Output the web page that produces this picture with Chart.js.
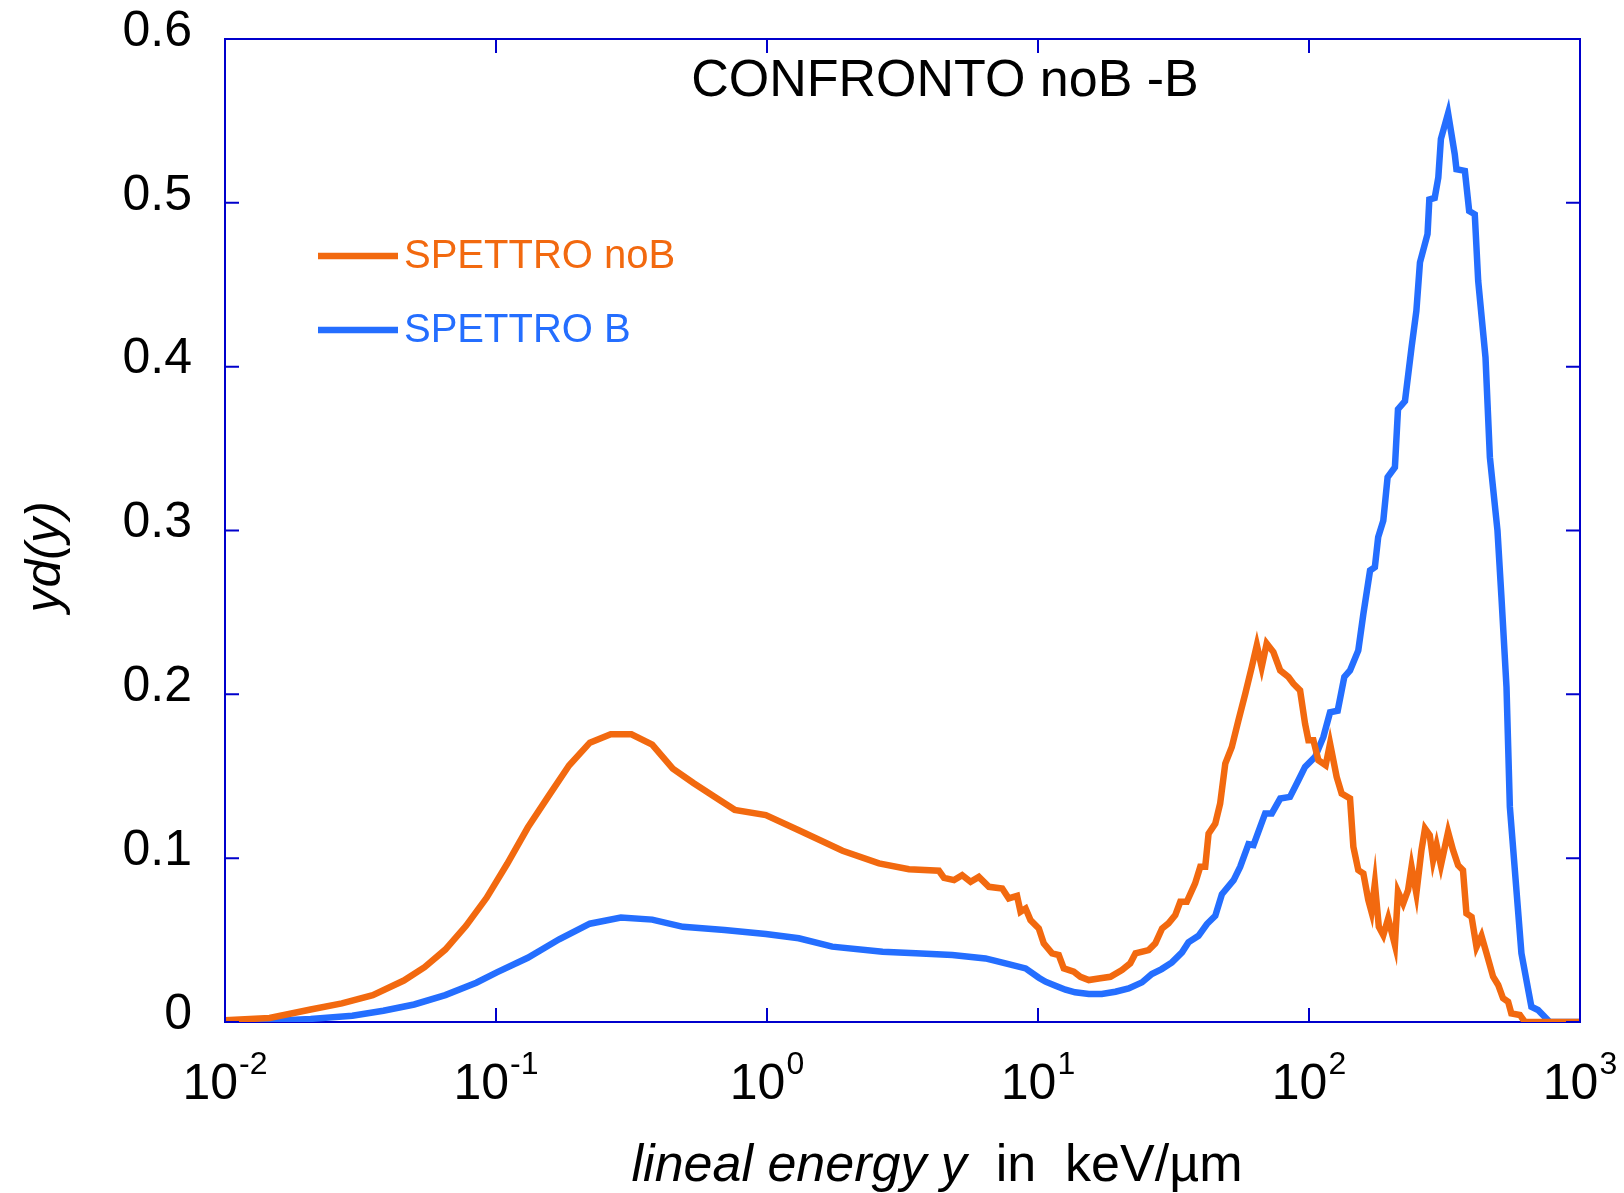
<!DOCTYPE html>
<html>
<head>
<meta charset="utf-8">
<title>CONFRONTO noB -B</title>
<script src="https://cdn.jsdelivr.net/npm/chart.js@4.4.1/dist/chart.umd.min.js"></script>
<style>
  html, body { margin: 0; padding: 0; background: #fff; }
</style>
</head>
<body>
<canvas id="spettri" width="1624" height="1193"></canvas>
<script>
// lineal energy y (keV/um) and yd(y) for the spectrum without boron
var noB_x = [0.01, 0.0146, 0.0207, 0.027, 0.0351, 0.0457, 0.0545, 0.065, 0.0775, 0.0923,
  0.11, 0.131, 0.156, 0.186, 0.222, 0.265, 0.316, 0.377, 0.449, 0.535,
  0.638, 0.76, 0.99, 1.31, 1.9, 2.59, 3.34, 4.31, 4.5, 4.9,
  5.25, 5.64, 6.05, 6.59, 7.38, 7.8, 8.37, 8.62, 9.0, 9.38,
  10.07, 10.5, 11.27, 11.93, 12.45, 13.55, 14.34, 15.4, 16.75, 18.5,
  20.4, 21.9, 22.9, 25.6, 27.1, 28.7, 30.3, 32.1, 33.5, 35.4,
  38.0, 39.7, 41.4, 42.6, 45.1, 47.0, 49.1, 51.9, 54.9, 58.2,
  61.5, 64.2, 66.9, 69.8, 73.9, 78.3, 84, 87.6, 92.7, 96.7,
  99.5, 103.8, 108.3, 115.2, 119.6, 126.5, 132, 141.7, 145.8, 152,
  158.7, 165.5, 170, 175, 181, 188, 196, 207.5, 213, 222.6,
  232, 239, 249, 260, 268, 279, 287, 295.6, 306.7, 326,
  340, 355, 370, 381, 398, 415, 433, 452, 478, 499,
  520, 543, 558, 600, 626, 700, 1000];
var noB_y = [0.001, 0.0025, 0.0076, 0.0114, 0.0164, 0.0253, 0.0335, 0.0442, 0.0587, 0.0758,
  0.0966, 0.1187, 0.1377, 0.1566, 0.1705, 0.1756, 0.1756, 0.1693, 0.1547, 0.1459,
  0.1377, 0.1295, 0.1263, 0.117, 0.1045, 0.0968, 0.0933, 0.0923, 0.088, 0.0866,
  0.0896, 0.0856, 0.0886, 0.0825, 0.0815, 0.0754, 0.077, 0.0673, 0.0693, 0.0622,
  0.0571, 0.048, 0.0419, 0.0409, 0.0327, 0.0307, 0.0276, 0.0256, 0.0266, 0.0276,
  0.0317, 0.0358, 0.0419, 0.0439, 0.048, 0.0571, 0.0602, 0.0652, 0.0734, 0.0734,
  0.0846, 0.0947, 0.0947, 0.115, 0.1211, 0.1333, 0.1577, 0.1679, 0.1841, 0.2004,
  0.2167, 0.230, 0.2167, 0.231, 0.2258, 0.2146, 0.2106, 0.2065, 0.2024, 0.1821,
  0.172, 0.172, 0.1598, 0.1567, 0.170, 0.1496, 0.1394, 0.1364, 0.1069, 0.0927,
  0.0907, 0.0744, 0.0673, 0.0846, 0.0581, 0.053, 0.0632, 0.047, 0.0795, 0.0724,
  0.0805, 0.0947, 0.0785, 0.1049, 0.1181, 0.114, 0.0988, 0.108, 0.0957, 0.116,
  0.1049, 0.0957, 0.0927, 0.0663, 0.0642, 0.0459, 0.0526, 0.0419, 0.0276, 0.0226,
  0.0145, 0.0124, 0.0053, 0.0043, 0, 0, 0];

// same quantities for the spectrum with boron
var B_x = [0.01, 0.0146, 0.0207, 0.0295, 0.0384, 0.0499, 0.065, 0.0846, 0.1007, 0.131,
  0.171, 0.222, 0.289, 0.377, 0.49, 0.697, 0.99, 1.31, 1.74, 2.67,
  3.54, 4.83, 6.4, 7.59, 9.0, 10.07, 10.66, 11.6, 12.63, 13.7,
  15.4, 17.2, 19.3, 21.6, 24.2, 26.3, 28.6, 31.2, 34.0, 35.9,
  39.1, 42, 45.1, 47.7, 52.7, 55.7, 59.8, 62.4, 66, 68.9,
  72.9, 78.3, 85.1, 91.4, 96.7, 105.3, 113, 119.6, 127.6, 135,
  141.7, 152, 158.7, 168, 175, 180, 188, 195, 207.5, 213,
  226, 239, 249, 256.7, 273.8, 278, 291, 300, 306.7, 326,
  345, 350, 376, 390, 409, 421, 448, 465, 496, 513,
  535.5, 551, 608, 661.6, 700, 773, 1000];
var B_y = [0, 0.0006, 0.0019, 0.0038, 0.0069, 0.0107, 0.0164, 0.024, 0.0303, 0.0392,
  0.0505, 0.060, 0.0638, 0.0625, 0.0581, 0.0562, 0.0537, 0.0511, 0.046, 0.0429,
  0.0419, 0.0409, 0.0388, 0.0358, 0.0327, 0.027, 0.0246, 0.0221, 0.0197, 0.0181,
  0.0171, 0.0171, 0.0185, 0.0205, 0.0242, 0.0293, 0.0323, 0.0364, 0.0425, 0.0486,
  0.0526, 0.0598, 0.0648, 0.078, 0.0866, 0.0947, 0.1085, 0.108, 0.119, 0.1273,
  0.1273, 0.1364, 0.1374, 0.1476, 0.1557, 0.1618, 0.174, 0.189, 0.19, 0.2106,
  0.2146, 0.2268, 0.249, 0.2756, 0.2776, 0.296, 0.306, 0.3325, 0.3386, 0.374,
  0.379, 0.4118, 0.434, 0.4636, 0.481, 0.502, 0.503, 0.5154, 0.539, 0.5547,
  0.5297, 0.5205, 0.5195, 0.495, 0.493, 0.4524, 0.4057, 0.3447, 0.300, 0.2593,
  0.2045, 0.1313, 0.0419, 0.0093, 0.0073, 0, 0];

var seriesNames = ['SPETTRO noB', 'SPETTRO B'];
var xDecades = [-2, -1, 0, 1, 2, 3];
var yTicks = [0, 0.1, 0.2, 0.3, 0.4, 0.5, 0.6];
var yTickLabels = ['0', '0.1', '0.2', '0.3', '0.4', '0.5', '0.6'];

var ORANGE = '#F2690F';
var BLUE = '#246EFF';
var AXIS = '#0000CC';
var FONT = '"Liberation Sans", Arial, Helvetica, sans-serif';

function toPoints(xs, ys) {
  return xs.map(function (v, i) { return { x: v, y: ys[i] }; });
}

// frame, inward tick marks, exponent labels, titles and legend
var decorations = {
  id: 'decorations',
  afterDraw: function (chart) {
    var ctx = chart.ctx;
    var a = chart.chartArea;
    var xs = chart.scales.x, ys = chart.scales.y;
    ctx.save();

    ctx.strokeStyle = AXIS;
    ctx.lineWidth = 2;
    ctx.beginPath();
    ctx.moveTo(a.left, a.top);
    ctx.lineTo(a.right, a.top);
    ctx.lineTo(a.right, a.bottom);
    ctx.stroke();

    var tl = 14;
    ctx.beginPath();
    yTicks.forEach(function (v) {
      var py = ys.getPixelForValue(v);
      ctx.moveTo(a.left, py); ctx.lineTo(a.left + tl, py);
      ctx.moveTo(a.right, py); ctx.lineTo(a.right - tl, py);
    });
    xDecades.forEach(function (e) {
      var px = xs.getPixelForValue(Math.pow(10, e));
      ctx.moveTo(px, a.bottom); ctx.lineTo(px, a.bottom - tl);
      ctx.moveTo(px, a.top); ctx.lineTo(px, a.top + tl);
    });
    ctx.stroke();

    // 10^n labels under the x axis
    ctx.fillStyle = '#000';
    ctx.textBaseline = 'alphabetic';
    ctx.textAlign = 'left';
    xDecades.forEach(function (e) {
      var px = xs.getPixelForValue(Math.pow(10, e));
      ctx.font = '50px ' + FONT;
      var w1 = ctx.measureText('10').width;
      ctx.font = '32px ' + FONT;
      var w2 = ctx.measureText(String(e)).width;
      var start = px - (w1 + 1 + w2) / 2;
      ctx.font = '50px ' + FONT;
      ctx.fillText('10', start, a.bottom + 77);
      ctx.font = '32px ' + FONT;
      ctx.fillText(String(e), start + w1 + 1, a.bottom + 52);
    });

    // x axis title: italic quantity, upright unit
    var part1 = 'lineal energy y', part2 = '  in  keV/\u00b5m';
    ctx.font = 'italic 52px ' + FONT;
    var p1 = ctx.measureText(part1).width;
    ctx.font = '52px ' + FONT;
    var p2 = ctx.measureText(part2).width;
    var tx = 937 - (p1 + p2) / 2;
    ctx.font = 'italic 52px ' + FONT;
    ctx.fillText(part1, tx, 1181);
    ctx.font = '52px ' + FONT;
    ctx.fillText(part2, tx + p1, 1181);

    // y axis title
    ctx.save();
    ctx.translate(46, 557);
    ctx.rotate(-Math.PI / 2);
    ctx.font = 'italic 50px ' + FONT;
    ctx.textAlign = 'center';
    ctx.textBaseline = 'middle';
    ctx.fillText('yd(y)', 0, 0);
    ctx.restore();

    // chart title inside the frame
    ctx.font = '52px ' + FONT;
    ctx.textAlign = 'center';
    ctx.fillText('CONFRONTO noB -B', 945, 96);

    // legend
    ctx.textAlign = 'left';
    ctx.textBaseline = 'middle';
    ctx.font = '40px ' + FONT;
    chart.data.datasets.forEach(function (ds, i) {
      var ly = 256 + i * 74;
      ctx.strokeStyle = ds.borderColor;
      ctx.lineWidth = 6.5;
      ctx.beginPath();
      ctx.moveTo(318, ly);
      ctx.lineTo(398, ly);
      ctx.stroke();
      ctx.fillStyle = ds.borderColor;
      ctx.fillText(ds.label, 404, ly + 1);
    });

    ctx.restore();
  }
};

var ctx = document.getElementById('spettri').getContext('2d');
var chart = new Chart(ctx, {
  type: 'line',
  data: {
    datasets: [{
      label: seriesNames[0],
      data: toPoints(noB_x, noB_y),
      borderColor: ORANGE,
      borderWidth: 6.5,
      pointRadius: 0,
      tension: 0,
      fill: false
    }, {
      label: seriesNames[1],
      data: toPoints(B_x, B_y),
      borderColor: BLUE,
      borderWidth: 6.5,
      pointRadius: 0,
      tension: 0,
      fill: false
    }]
  },
  options: {
    responsive: false,
    animation: false,
    devicePixelRatio: 1,
    layout: { padding: { top: 39, right: 44, left: 0, bottom: 0 } },
    plugins: {
      legend: { display: false },
      tooltip: { enabled: false }
    },
    scales: {
      x: {
        type: 'logarithmic',
        min: 0.01,
        max: 1000,
        afterBuildTicks: function (s) {
          s.ticks = xDecades.map(function (e) { return { value: Math.pow(10, e) }; });
        },
        afterFit: function (s) {
          s.height = 171;
          s.paddingLeft = 0; s.paddingRight = 0;
        },
        ticks: { display: false },
        grid: { display: false, drawTicks: false },
        border: { display: true, color: AXIS, width: 2 }
      },
      y: {
        type: 'linear',
        min: 0,
        max: 0.6,
        afterBuildTicks: function (s) {
          s.ticks = yTicks.map(function (v) { return { value: v }; });
        },
        afterFit: function (s) {
          s.width = 225;
          s.paddingTop = 0; s.paddingBottom = 0;
        },
        ticks: {
          color: '#000',
          font: { family: FONT, size: 50 },
          padding: 33,
          labelOffset: -7,
          callback: function (v, i) { return yTickLabels[i]; }
        },
        grid: { display: false, drawTicks: false },
        border: { display: true, color: AXIS, width: 2 }
      }
    }
  },
  plugins: [decorations]
});
</script>
</body>
</html>
